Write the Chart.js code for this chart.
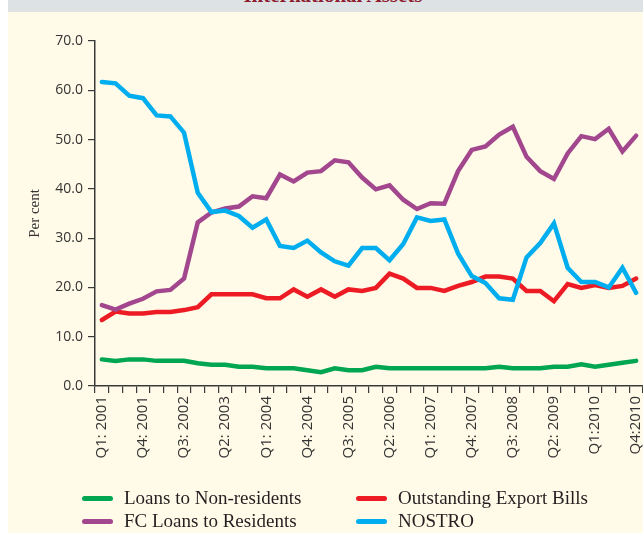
<!DOCTYPE html>
<html>
<head>
<meta charset="utf-8">
<script src="https://cdn.jsdelivr.net/npm/chart.js@4.4.0/dist/chart.umd.min.js"></script>
<style>
    html, body { margin: 0; padding: 0; }
    body { width: 643px; height: 533px; position: relative; overflow: hidden; background: #ffffff; }
    .panel { position: absolute; left: 8px; top: 0; width: 635px; height: 533px; background: #fffbe8; }
    .band { position: absolute; left: 8px; top: 0; width: 635px; height: 12px; background: #dde2e5; overflow: hidden; }
    .band span {
        position: absolute; left: 0; width: 650px; top: -17px; text-align: center;
        font: bold 21px "Liberation Serif", "DejaVu Serif", serif; color: #8c1c2e;
    }
    #chartBox { position: absolute; left: 0; top: 0; width: 643px; height: 533px; }
    .legend { position: absolute; left: 0; top: 486px; width: 643px; height: 47px; }
    .legend .item { position: absolute; height: 24px; display: flex; align-items: center;
        font: 19px "Liberation Serif", "DejaVu Serif", serif; color: #231f20; white-space: nowrap; }
    .legend .swatch { width: 31px; height: 5px; border-radius: 3px; margin-right: 11px; }
</style>
</head>
<body>
<div class="panel"></div>
<div class="band"><span>International Assets</span></div>
<div id="chartBox"><canvas id="assetsChart" width="643" height="533"></canvas></div>
<div class="legend" id="legend"></div>
<script>
// Quarters Q1 2001 .. Q4 2010
const quarters = [];
for (let y = 2001; y <= 2010; y++) {
    for (let q = 1; q <= 4; q++) quarters.push(`Q${q}: ${y}`);
}

// Labels shown on the axis (every third quarter)
const tickLabels = ['Q1: 2001', 'Q4: 2001', 'Q3: 2002', 'Q2: 2003', 'Q1: 2004', 'Q4: 2004', 'Q3: 2005',
    'Q2: 2006', 'Q1: 2007', 'Q4: 2007', 'Q3: 2008', 'Q2: 2009', 'Q1:2010', 'Q4:2010'];

const yTicks = [0, 10, 20, 30, 40, 50, 60, 70];

// Series (per cent)
const loansNonResidents = [5.4, 5.1, 5.4, 5.4, 5.1, 5.1, 5.1, 4.6, 4.3, 4.3,
    3.9, 3.9, 3.6, 3.6, 3.6, 3.2, 2.8, 3.6, 3.2, 3.2,
    3.9, 3.6, 3.6, 3.6, 3.6, 3.6, 3.6, 3.6, 3.6, 3.9,
    3.6, 3.6, 3.6, 3.9, 3.9, 4.4, 3.9, 4.3, 4.7, 5.1];

const exportBills = [13.4, 15.1, 14.7, 14.7, 15.0, 15.0, 15.4, 16.0, 18.6, 18.6,
    18.6, 18.6, 17.8, 17.8, 19.6, 18.1, 19.6, 18.1, 19.6, 19.3,
    19.9, 22.8, 21.8, 19.9, 19.9, 19.3, 20.3, 21.1, 22.2, 22.2,
    21.8, 19.3, 19.3, 17.2, 20.7, 19.9, 20.5, 19.9, 20.3, 21.8];

const fcLoansResidents = [16.4, 15.5, 16.7, 17.7, 19.2, 19.5, 21.8, 33.2, 35.2, 36.0,
    36.4, 38.5, 38.1, 42.9, 41.5, 43.3, 43.6, 45.8, 45.4, 42.3,
    39.9, 40.7, 37.8, 35.9, 37.1, 37.0, 43.6, 47.9, 48.6, 51.0,
    52.6, 46.5, 43.6, 42.0, 47.2, 50.7, 50.1, 52.2, 47.6, 50.8];

const nostro = [61.7, 61.4, 58.9, 58.4, 54.9, 54.7, 51.4, 39.2, 35.3, 35.6,
    34.5, 32.1, 33.8, 28.4, 28.0, 29.5, 27.1, 25.3, 24.4, 28.0,
    28.0, 25.5, 28.8, 34.2, 33.5, 33.8, 26.9, 22.3, 20.9, 17.8,
    17.5, 26.1, 29.0, 33.0, 24.0, 21.1, 21.1, 20.0, 24.0, 18.9];

const colors = {
    green: '#00a651',
    red: '#ed1c24',
    purple: '#a2478e',
    blue: '#00aeef',
    axis: '#3a3a3a'
};

const sansFont = '"Open Sans", "DejaVu Sans", sans-serif';

function line(label, data, color, order) {
    return {
        label, data,
        borderColor: color,
        backgroundColor: color,
        borderWidth: 4.5,
        borderCapStyle: 'round',
        borderJoinStyle: 'miter',
        pointRadius: 0,
        tension: 0,
        fill: false,
        order
    };
}

const datasets = [
    line('Loans to Non-residents', loansNonResidents, colors.green, 3),
    line('Outstanding Export Bills', exportBills, colors.red, 2),
    line('FC Loans to Residents', fcLoansResidents, colors.purple, 1),
    line('NOSTRO', nostro, colors.blue, 0)
];

new Chart(document.getElementById('assetsChart').getContext('2d'), {
    type: 'line',
    data: { labels: quarters, datasets },
    options: {
        responsive: false,
        animation: false,
        layout: { padding: { top: 41, right: 0, left: 0, bottom: 0 } },
        plugins: { legend: { display: false }, tooltip: { enabled: false } },
        scales: {
            x: {
                offset: true,
                afterFit: (s) => {
                    s.height = 147;
                    // let the plot run to the right edge like the original
                    s.paddingRight = 0;
                    s.paddingLeft = 0;
                },
                grid: { offset: true, drawOnChartArea: false, drawTicks: true, tickLength: 7, tickColor: colors.axis, lineWidth: 1.2 },
                border: { color: colors.axis, width: 1.5 },
                ticks: {
                    autoSkip: false,
                    maxRotation: 90,
                    minRotation: 90,
                    padding: 3,
                    color: '#333',
                    font: { family: sansFont, size: 15 },
                    callback: (v, i) => (i % 3 === 0 ? tickLabels[i / 3] : '')
                }
            },
            y: {
                min: 0,
                max: 70,
                afterFit: (s) => { s.width = 95; },
                afterBuildTicks: (s) => { s.ticks = yTicks.map(v => ({ value: v })); },
                grid: { drawOnChartArea: false, drawTicks: true, tickLength: 7, tickColor: colors.axis, lineWidth: 1.2 },
                border: { color: colors.axis, width: 1.5 },
                ticks: {
                    padding: 5,
                    color: '#333',
                    font: { family: sansFont, size: 14 },
                    callback: (v) => v.toFixed(1)
                },
                title: {
                    display: true,
                    text: 'Per cent',
                    color: '#333',
                    font: { family: '"Liberation Serif", "DejaVu Serif", serif', size: 15 },
                    padding: { top: 26, bottom: 0 }
                }
            }
        }
    }
});

// Legend in two columns, built from the datasets
const legendPos = [[82, 0], [356, 0], [82, 23], [356, 23]];
const legendEl = document.getElementById('legend');
datasets.forEach((ds, k) => {
    const item = document.createElement('div');
    item.className = 'item';
    item.style.left = legendPos[k][0] + 'px';
    item.style.top = legendPos[k][1] + 'px';
    item.innerHTML = `<span class="swatch" style="background:${ds.borderColor}"></span>${ds.label}`;
    legendEl.appendChild(item);
});
</script>
</body>
</html>
